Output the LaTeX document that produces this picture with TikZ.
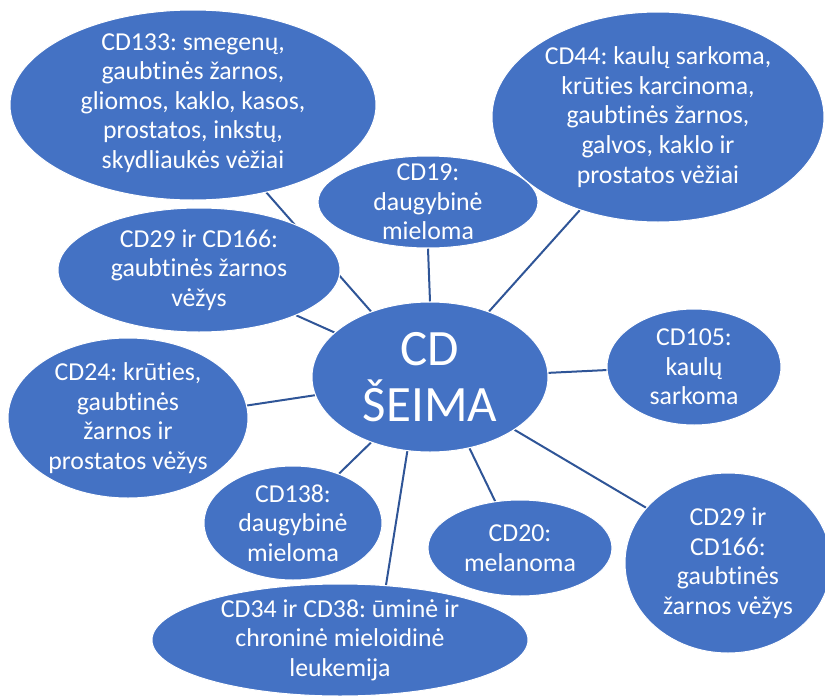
\documentclass[tikz,border=0pt]{standalone}
\usepackage{fontspec}
\setmainfont{Carlito}[RawFeature={-liga;-clig;-calt;-dlig}]
\frenchspacing
\usetikzlibrary{shapes.geometric,backgrounds}
\definecolor{bubble}{HTML}{4472C4}
\definecolor{spokeblue}{HTML}{2F5597}
\begin{document}
\begin{tikzpicture}[x=1pt,y=-1pt,
  bub/.style={ellipse, fill=bubble, draw=white, line width=1pt, inner sep=0pt},
  lbl/.style={text=white, align=center, inner sep=0pt,
              font=\fontsize{25.8}{29.6}\selectfont},
  hub/.style={text=white, align=center, inner sep=0pt,
              font=\fontsize{51}{56}\selectfont},
  spoke/.style={draw=spokeblue, line width=2pt}]
\useasboundingbox (0,0) rectangle (825,696);

% outer bubbles
\node[bub, minimum width=366pt, minimum height=190pt] (cd133) at (193,105) {};
\node[bub, minimum width=332pt, minimum height=210pt] (cd44)  at (658,117) {};
\node[bub, minimum width=220pt, minimum height=92pt]  (cd19)  at (428,202) {};
\node[bub, minimum width=282pt, minimum height=124pt] (cd29a) at (199,270) {};
\node[bub, minimum width=174pt, minimum height=116pt] (cd105) at (694,367) {};
\node[bub, minimum width=240pt, minimum height=160pt] (cd24)  at (128,418) {};
\node[bub, minimum width=178pt, minimum height=114pt] (cd138) at (293,523) {};
\node[bub, minimum width=184pt, minimum height=96pt]  (cd20)  at (520,548) {};
\node[bub, minimum width=206pt, minimum height=180pt] (cd29b) at (728,563) {};
\node[bub, minimum width=376pt, minimum height=112pt] (cd34)  at (340,640) {};
% central bubble
\node[bub, minimum width=236pt, minimum height=150pt] (hub)   at (430,377) {};

% labels
\node[lbl] (t133) at ([yshift=2pt]cd133) {CD133: smegenų,\\gaubtinės žarnos,\\gliomos, kaklo, kasos,\\prostatos, inkstų,\\skydliaukės vėžiai};
\node[lbl] (t44) at (cd44) {CD44: kaulų sarkoma,\\krūties karcinoma,\\gaubtinės žarnos,\\galvos, kaklo ir\\prostatos vėžiai};
\node[lbl] (t19) at (cd19) {CD19:\\daugybinė\\mieloma};
\node[lbl] (t29a) at (cd29a) {CD29 ir CD166:\\gaubtinės žarnos\\vėžys};
\node[lbl] (t105) at (cd105) {CD105:\\kaulų\\sarkoma};
\node[lbl] (t24) at (cd24) {CD24: krūties,\\gaubtinės\\žarnos ir\\prostatos vėžys};
\node[lbl] (t138) at (cd138) {CD138:\\daugybinė\\mieloma};
\node[lbl] (t20) at (cd20) {CD20:\\melanoma};
\node[lbl] (t29b) at (cd29b) {CD29 ir\\CD166:\\gaubtinės\\žarnos vėžys};
\node[lbl] (t34) at (cd34) {CD34 ir CD38: ūminė ir\\chroninė mieloidinė\\leukemija};
\node[hub] (thub) at (hub) {CD\\ŠEIMA};

% spokes from the central bubble
\begin{scope}[on background layer]
\draw[spoke] (hub.132.7)  -- (cd133.-50.1);
\draw[spoke] (hub.155.8)  -- (cd29a.-25.4);
\draw[spoke] (hub.90)     -- (cd19.-90);
\draw[spoke] (hub.48.3)   -- (cd44.-130.4);
\draw[spoke] (hub.2)      -- (cd105.182.6);
\draw[spoke] (hub.-32.9)  -- (cd29b.146.9);
\draw[spoke] (hub.-61.2)  -- (cd20.118.7);
\draw[spoke] (hub.-107.3) -- (cd34.50.5);
\draw[spoke] (hub.-132.8) -- (cd138.47.3);
\draw[spoke] (hub.189.2)  -- (cd24.6.5);
\end{scope}
\end{tikzpicture}
\end{document}
